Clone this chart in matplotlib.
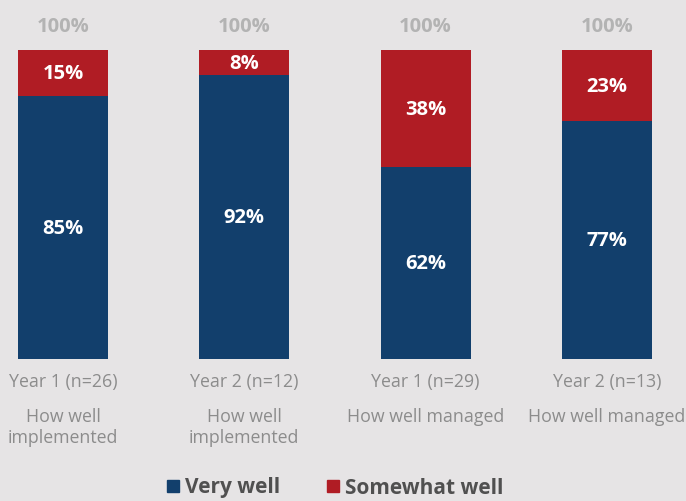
import matplotlib
matplotlib.use("Agg")
import matplotlib.pyplot as plt
from matplotlib.lines import Line2D

plt.rcParams['font.family'] = ['Open Sans', 'DejaVu Sans']

years = ["Year 1 (n=26)", "Year 2 (n=12)", "Year 1 (n=29)", "Year 2 (n=13)"]
groups = ["How well\nimplemented", "How well\nimplemented", "How well managed", "How well managed"]
very_well = [85, 92, 62, 77]
somewhat_well = [15, 8, 38, 23]
totals = [100, 100, 100, 100]

blue = "#123f6c"
red = "#b01c24"
bg = "#e6e4e5"

fig = plt.figure(figsize=(6.86, 5.01), dpi=100, facecolor=bg)
ax = fig.add_axes([0, (501 - 359) / 501, 1, 309 / 501])
ax.set_facecolor(bg)

x = list(range(len(years)))
w = 90 / 181.3
ax.bar(x, very_well, width=w, color=blue)
ax.bar(x, somewhat_well, width=w, bottom=very_well, color=red)

for i in x:
    ax.text(i, very_well[i] / 2 - 0.4, "%d%%" % very_well[i], ha="center", va="center",
            color="white", fontsize=14.5, fontweight="bold")
    ax.text(i, very_well[i] + somewhat_well[i] / 2 - 0.4, "%d%%" % somewhat_well[i], ha="center",
            va="center", color="white", fontsize=14.5, fontweight="bold")
    ax.text(i, totals[i] + 7.6, "%d%%" % totals[i], ha="center", va="center",
            color="#b3b3b3", fontsize=14.5, fontweight="bold")
    ax.text(i, -7.6, years[i], ha="center", va="center", color="#8c8c8c", fontsize=12.8)
    ax.text(i, -16.0, groups[i], ha="center", va="top", color="#8c8c8c", fontsize=12.8,
            linespacing=1.2)

ax.set_xlim(-63 / 181.3, (686 - 63) / 181.3)
ax.set_ylim(0, 100)
ax.axis("off")

handles = [Line2D([], [], marker="s", linestyle="none", markersize=8.6, color=blue),
           Line2D([], [], marker="s", linestyle="none", markersize=8.6, color=red)]
leg = fig.legend(handles, ["Very well", "Somewhat well"], loc="center",
                 bbox_to_anchor=(335 / 686, 1 - 488 / 501), ncol=2, frameon=False,
                 handlelength=0.6, handletextpad=0.3, columnspacing=2.2,
                 prop={"size": 15, "weight": "bold"})
for t in leg.get_texts():
    t.set_color("#505050")

fig.savefig("out.png", dpi=100, facecolor=bg)
